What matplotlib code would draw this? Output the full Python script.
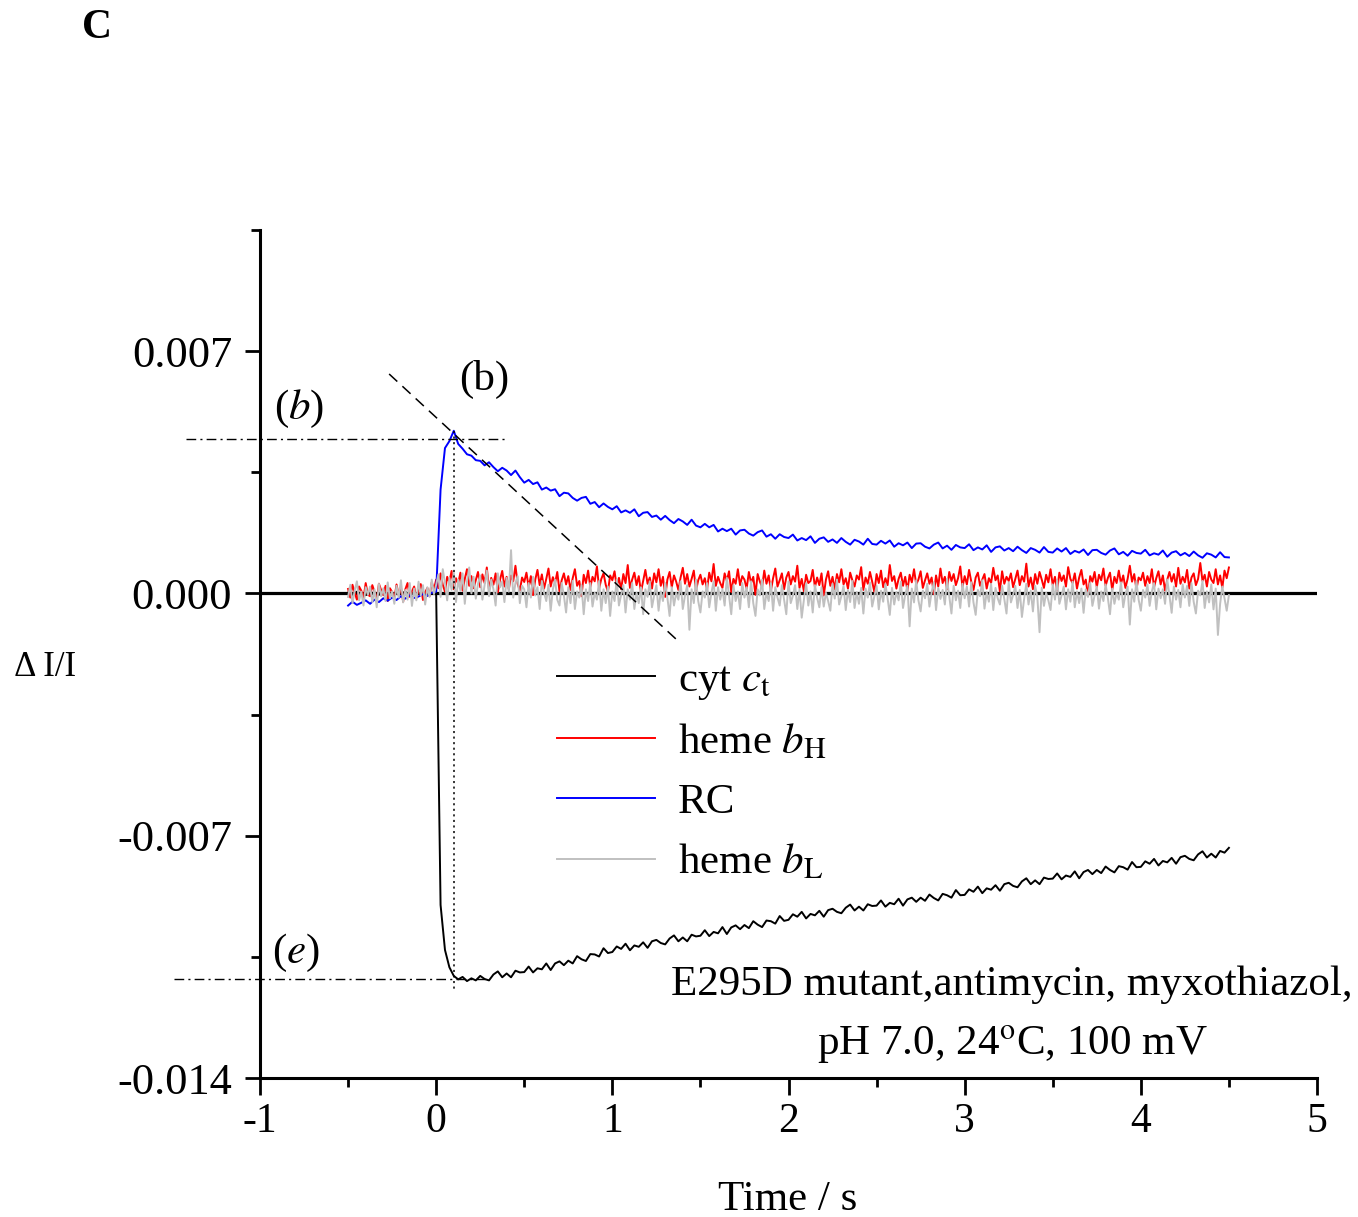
import numpy as np
import matplotlib
matplotlib.use("Agg")
import matplotlib.pyplot as plt

plt.rcParams['font.family'] = ['Liberation Serif', 'DejaVu Serif']
plt.rcParams['mathtext.fontset'] = 'stix'
plt.rcParams['axes.unicode_minus'] = False
plt.rcParams['lines.scale_dashes'] = False

# ---- data (values in units of 1e-5 of dI/I), evenly sampled from -0.5 to 4.5 s ----
SCALE = 1e-5
t_start, t_end = -0.5, 4.5

# 201 samples (every 0.025 s)
cyt_ct = [
    2, -4, 5, -1, -5, 3, 1, -4, 6, -2,
    -3, 4, -1, 5, -5, 1, -2, 4, -6, 2,
    0, -900, -1030, -1080, -1105, -1115, -1108, -1120, -1112, -1118,
    -1105, -1114, -1118, -1101, -1092, -1109, -1098, -1109, -1090, -1095,
    -1094, -1078, -1095, -1083, -1086, -1069, -1088, -1069, -1063, -1074,
    -1061, -1069, -1048, -1057, -1062, -1042, -1043, -1049, -1025, -1039,
    -1036, -1020, -1027, -1012, -1031, -1017, -1021, -1008, -1024, -1005,
    -1001, -1010, -1014, -997, -988, -1005, -994, -1005, -986, -991,
    -989, -973, -990, -978, -982, -964, -984, -965, -959, -970,
    -958, -967, -947, -957, -964, -945, -947, -954, -932, -946,
    -943, -927, -934, -920, -939, -926, -930, -917, -934, -915,
    -911, -920, -924, -908, -899, -916, -905, -916, -898, -903,
    -902, -887, -905, -894, -898, -882, -902, -884, -879, -891,
    -879, -888, -870, -880, -887, -868, -872, -879, -857, -872,
    -871, -855, -862, -847, -866, -852, -856, -843, -859, -840,
    -836, -845, -849, -832, -823, -840, -829, -840, -821, -825,
    -824, -809, -826, -815, -819, -803, -823, -805, -799, -811,
    -799, -808, -789, -799, -806, -788, -791, -798, -776, -791,
    -790, -774, -781, -767, -786, -773, -777, -764, -781, -762,
    -758, -767, -771, -754, -745, -763, -752, -763, -744, -749,
    -735,
]

# 401 samples (every 0.0125 s)
heme_bH = [
    13, -12, 25, 2, -18, 20, 8, -15, 30, -4,
    -8, 24, 5, -20, 28, 10, -5, 22, -22, 15,
    4, -16, 26, -6, 18, -24, 12, 30, -10, 6,
    20, -14, 9, 27, -19, 3, 16, -8, 32, 12,
    40, 15, 58, 25, 5, 48, 32, 65, 12, 44,
    28, 60, 8, 42, 70, 22, 50, 15, 38, 62,
    18, 55, 30, 75, 10, 45, 25, 58, 3, 40,
    65, 20, 48, 12, 52, 35, 80, 28, 8, 46,
    33, 60, 18, 50, -5, 40, 68, 24, 55, 14,
    42, 72, 20, 47, 30, 62, 6, 38, 58, 26,
    50, 10, 44, 70, 22, 36, -8, 54, 30, 66,
    18, 48, 35, 78, 14, 42, 58, 25, 5, 52,
    38, 64, 20, 45, 12, 56, 30, 82, 16, 40,
    60, 24, 50, 4, 36, 68, 28, 46, 14, 58,
    32, 70, 22, 48, -10, 40, 62, 18, 52, 34,
    10, 46, 74, 28, 56, 20, 42, 66, 8, 38,
    54, 26, 44, 12, 60, 35, 85, 22, 48, 30,
    16, 58, 36, 64, 4, 42, 28, 70, 24, 50,
    40, 14, 62, 30, 48, -4, 56, 34, 18, 66,
    28, 52, 8, 44, 72, 20, 38, 58, 12, 46,
    62, 26, 50, 34, 80, 16, 42, 6, 54, 30,
    36, 68, 18, 46, 24, 58, -6, 40, 64, 22,
    48, 12, 56, 32, 70, 26, 44, 14, 60, 38,
    20, 52, 40, 76, 10, 46, 28, 62, 34, 4,
    56, 30, 66, 18, 44, 24, 82, 36, 50, 14,
    42, 60, 22, 48, 8, 54, 32, 70, 26, 40,
    64, 16, 38, 58, 28, 46, -2, 52, 20, 72,
    30, 48, 12, 62, 36, 56, 24, 44, 78, 18,
    50, 26, 68, 34, 10, 46, 60, 22, 40, 56,
    14, 44, 30, 74, 38, 52, 6, 64, 28, 48,
    36, 58, 18, 42, 66, 24, 50, 34, 86, 20,
    46, 12, 56, 28, 62, 40, 16, 54, 32, 70,
    24, 48, 8, 60, 36, 52, 20, 76, 42, 30,
    58, 14, 46, 68, 26, 40, -8, 50, 34, 62,
    18, 54, 38, 72, 22, 44, 60, 10, 48, 30,
    66, 28, 52, 16, 42, 80, 34, 56, 12, 46,
    38, 60, 22, 50, 30, 70, 18, 44, 64, 26,
    52, 8, 40, 62, 34, 56, 20, 74, 28, 48,
    32, 68, 14, 46, 58, 24, 42, 88, 36, 54,
    20, 62, 40, 30, 70, 26, 52, 16, 66, 44,
    75,
]

# 201 samples (every 0.025 s)
rc = [
    -35, -24, -33, -27, -20, -30, -18, -25, -14, -21,
    -12, -19, -8, -15, -5, -13, -9, -2, -7, 2,
    5, 300, 420, 440, 470, 432, 418, 402, 398, 385,
    383, 370, 379, 365, 353, 363, 355, 342, 355, 336,
    320, 328, 316, 321, 300, 306, 297, 301, 281, 291,
    289, 276, 268, 276, 279, 259, 264, 249, 260, 250,
    243, 252, 234, 240, 233, 243, 223, 233, 235, 221,
    225, 213, 224, 212, 203, 215, 208, 198, 213, 196,
    191, 201, 191, 198, 179, 187, 180, 187, 170, 182,
    184, 173, 167, 177, 182, 164, 171, 158, 171, 163,
    160, 170, 153, 160, 154, 165, 146, 158, 162, 149,
    156, 146, 160, 149, 141, 155, 150, 141, 158, 143,
    141, 152, 144, 153, 135, 145, 139, 147, 131, 144,
    145, 135, 130, 141, 147, 130, 138, 126, 140, 133,
    131, 142, 125, 133, 127, 139, 120, 133, 136, 124,
    131, 122, 135, 125, 117, 131, 126, 118, 134, 120,
    118, 130, 121, 131, 114, 123, 118, 127, 111, 125,
    126, 117, 112, 124, 130, 113, 120, 109, 123, 117,
    115, 126, 110, 116, 112, 124, 106, 118, 122, 110,
    117, 108, 121, 110, 103, 116, 112, 104, 119, 105,
    104,
]

# 401 samples (every 0.0125 s)
heme_bL = [
    -10, 25, -28, 8, 35, -20, 5, -35, 18, -4,
    20, -25, 12, -40, 28, -8, 15, -22, 32, -14,
    6, -30, 22, -12, 38, -26, 10, -18, 30, -36,
    14, -20, 34, -6, 24, -32, 18, -10, 40, -2,
    25, 55, -10, 70, 30, -20, 45, 10, 62, -25,
    40, 8, 58, -30, 35, 75, 0, 48, -15, 28,
    52, -18, 24, 66, -8, 40, 12, -35, 58, 18,
    35, -25, 45, 5, 125, -12, 30, 50, -28, 22,
    12, -40, 30, -12, 48, -6, 18, -45, 36, 2,
    -22, 25, -50, 12, 40, -18, -35, 30, -6, -55,
    18, -28, 36, -45, 6, -12, 24, -60, 12, -22,
    30, -38, 2, -18, 36, -50, 12, -28, 20, -65,
    6, -22, 40, -35, -4, 24, -55, 12, -18, 30,
    -45, 2, -28, 18, -60, 12, -10, 35, -40, -6,
    24, -50, 6, -22, 30, -12, -65, 18, -35, 2,
    -18, 35, -45, -6, 24, -105, 12, -28, 40, -22,
    -55, 6, -12, 30, -40, 2, 35, -50, 18, -18,
    12, -35, 45, -6, -60, 24, -22, 6, -45, 30,
    -12, 18, -40, 35, -28, -65, 12, -6, 40, -45,
    2, -22, 30, -50, 18, -12, -35, 24, -18, -60,
    35, -28, -6, 24, -45, 12, -70, -18, 30, -35,
    6, -55, 24, -12, -40, 18, -38, 2, -22, -50,
    28, -15, 40, -32, -8, 22, -48, 10, -25, 36,
    -42, 4, -30, 16, -58, 14, -12, 32, -38, -8,
    22, -46, 8, -24, 28, -14, -62, 16, -32, 4,
    -20, 34, -42, -4, 22, -95, 14, -26, 38, -20,
    -52, 8, -14, 28, -38, 4, 32, -48, 16, -16,
    10, -32, 42, -8, -58, 22, -20, 8, -42, 28,
    -14, 20, -38, 32, -26, -62, 10, -8, 38, -44,
    4, -24, 28, -48, 16, -14, -32, 22, -16, -58,
    32, -26, -4, 22, -42, 10, -68, -16, 28, -32,
    8, -52, 22, -10, -112, 16, -36, 2, -20, -48,
    26, -18, 38, -30, -6, 20, -46, 12, -24, 34,
    -40, 6, -28, 14, -56, 12, -10, 30, -36, -6,
    20, -44, 6, -22, 26, -12, -60, 14, -30, 2,
    -18, 32, -40, -2, 20, -90, 12, -24, 36, -18,
    -50, 10, -12, 26, -36, 6, 30, -46, 14, -14,
    12, -30, 40, -6, -56, 20, -18, 10, -40, 26,
    -12, 22, -36, 30, -24, -58, 8, -6, 36, -42,
    6, -26, 26, -46, 14, -120, -30, 20, -14, -50,
    -5,
]

series_labels = ["cyt $c_{\\mathrm{t}}$", "heme $b_{\\mathrm{H}}$", "RC", "heme $b_{\\mathrm{L}}$"]
series_colors = ["#000000", "#ff0000", "#0000ff", "#c0c0c0"]

x_ticks = [-1, 0, 1, 2, 3, 4, 5]
y_ticks = [-0.014, -0.007, 0.0, 0.007]
y_tick_labels = ["-0.014", "-0.007", "0.000", "0.007"]

# annotation reference levels
level_b = 0.00446          # RC peak level (b)
level_e = -0.01114         # cyt c minimum level (e)
t_peak = 0.1
tangent_t = [-0.267, 1.364]
tangent_v = [0.00634, -0.00133]

# ---- figure ----
W, H = 1358, 1217
fig = plt.figure(figsize=(W / 100, H / 100), dpi=100)
ax = fig.add_axes([260 / W, 1 - 1078 / H, (1317 - 260) / W, (1078 - 230) / H])

ax.axhline(0, color='black', lw=2.3, zorder=1)
for vals, lab, col in zip([cyt_ct, heme_bH, rc, heme_bL], series_labels, series_colors):
    tt = np.linspace(t_start, t_end, len(vals))
    ax.plot(tt, np.array(vals) * SCALE, color=col, lw=1.4, label=lab, zorder=2)

# annotation lines
ax.plot(tangent_t, tangent_v, color='black', lw=1.1, dashes=(8, 5), zorder=3)
ax.plot([-1.42, 0.40], [level_b, level_b], color='black', lw=1.0,
        dashes=(7, 3, 1.5, 3), clip_on=False, zorder=3)
ax.plot([-1.49, 0.28], [level_e, level_e], color='black', lw=1.0,
        dashes=(7, 3, 1.5, 3), clip_on=False, zorder=3)
ax.plot([t_peak, t_peak], [0.0047, -0.01146], color='black', lw=1.1,
        dashes=(1.5, 2.5), zorder=3)

ax.text(-0.778, 0.00532, "($b$)", fontsize=31, ha='center', va='center')
ax.text(0.273, 0.00619, "(b)", fontsize=31, ha='center', va='center')
ax.text(-0.795, -0.01039, "($e$)", fontsize=31, ha='center', va='center')

ax.set_xlim(-1, 5)
ax.set_ylim(-0.014, 0.0105)
ax.set_xticks(x_ticks)
ax.set_xticklabels([str(v) for v in x_ticks])
ax.set_xticks(np.arange(-0.5, 5, 1.0), minor=True)
ax.set_yticks(y_ticks)
ax.set_yticklabels(y_tick_labels)
ax.set_yticks([-0.0105, -0.0035, 0.0035, 0.0105], minor=True)

for s in ['top', 'right']:
    ax.spines[s].set_visible(False)
for s in ['left', 'bottom']:
    ax.spines[s].set_linewidth(2.2)

ax.tick_params(axis='x', which='major', length=12, width=2, direction='out', labelsize=30, pad=6)
ax.tick_params(axis='x', which='minor', length=6.5, width=2, direction='out')
ax.tick_params(axis='y', which='major', length=11, width=2, direction='out', labelsize=32, pad=9)
ax.tick_params(axis='y', which='minor', length=6.5, width=2, direction='out')

leg = ax.legend(loc='upper left', bbox_to_anchor=(557 / W, 1 - 661 / H),
                bbox_transform=fig.transFigure, frameon=False, fontsize=31,
                handlelength=2.27, handletextpad=0.54, labelspacing=0.48,
                borderpad=0, borderaxespad=0)

fig.text(1012 / W, 1 - 985 / H, "E295D mutant,antimycin, myxothiazol,", fontsize=31,
         ha='center', va='center')
fig.text(1012 / W, 1 - 1045 / H, "pH 7.0, 24$^{\\mathrm{o}}$C, 100 mV", fontsize=31,
         ha='center', va='center')

fig.text(45 / W, 1 - 668 / H, "Δ I/I", fontsize=25, ha='center', va='center')
fig.text(788 / W, 1 - 1200 / H, "Time / s", fontsize=31, ha='center', va='center')
fig.text(97 / W, 1 - 28 / H, "C", fontsize=30, fontweight='bold', ha='center', va='center')

fig.savefig("out.png", dpi=100)
